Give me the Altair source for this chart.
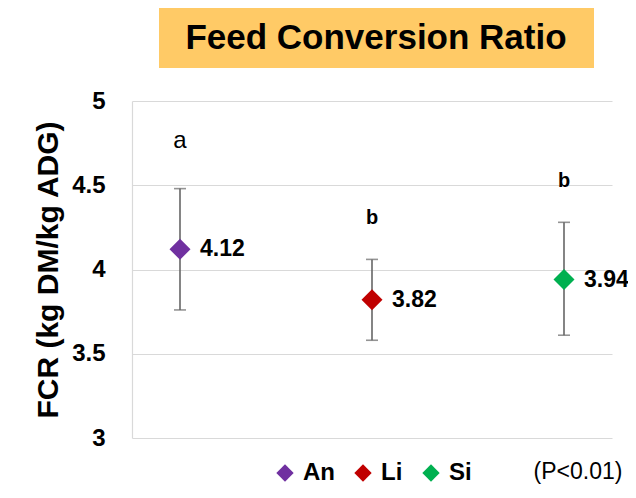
import altair as alt
import pandas as pd

cats = ["An", "Li", "Si"]
means = [4.12, 3.82, 3.94]
upper = [4.48, 4.06, 4.28]
lower = [3.76, 3.58, 3.61]
letters = ["a", "b", "b"]
colors = ["#7030A0", "#C00000", "#00B050"]
y_ticks = [3, 3.5, 4, 4.5, 5]

df = pd.DataFrame({"cat": cats, "mean": means, "hi": upper, "lo": lower, "letter": letters})

FONT = "Liberation Sans"
xenc = alt.X("cat:N", scale=alt.Scale(type="point", padding=0.25, domain=cats), axis=None)
yscale = alt.Scale(domain=[3, 5], nice=False, zero=False)
yaxis = alt.Axis(values=y_ticks, format=".1~f", grid=True, gridColor="#d9d9d9", gridWidth=1.2,
                 domainColor="#d9d9d9", domainWidth=1.2, ticks=False, tickSize=0, labelPadding=27,
                 labelFont=FONT, labelFontSize=24, labelFontWeight="bold", labelColor="black",
                 title="FCR (kg DM/kg ADG)", titleFont=FONT, titleFontSize=30, titleFontWeight="bold",
                 titleColor="black", titlePadding=8)

base = alt.Chart(df).encode(x=xenc)

rules = base.mark_rule(color="#666666", strokeWidth=1.6).encode(
    y=alt.Y("lo:Q", scale=yscale, axis=yaxis), y2="hi:Q")
cap_hi = base.mark_tick(color="#666666", size=12, thickness=1.6).encode(y=alt.Y("hi:Q"))
cap_lo = base.mark_tick(color="#666666", size=12, thickness=1.6).encode(y=alt.Y("lo:Q"))

points = base.mark_point(shape="diamond", filled=True, size=440, opacity=1).encode(
    y=alt.Y("mean:Q"),
    color=alt.Color("cat:N", scale=alt.Scale(domain=cats, range=colors),
                    legend=alt.Legend(orient="none", legendX=141, legendY=360, direction="horizontal",
                                      title=None, symbolType="diamond", symbolSize=300,
                                      symbolStrokeWidth=0, labelFont=FONT, labelFontSize=24,
                                      labelFontWeight="bold", labelColor="black", labelOffset=6,
                                      columnPadding=16)))

vals = base.mark_text(align="left", baseline="middle", dx=20, font=FONT, fontSize=23,
                      fontWeight="bold", color="black").encode(
    y=alt.Y("mean:Q"), text=alt.Text("mean:Q", format=".2f"))

let_a = base.transform_filter(alt.datum.letter == "a").mark_text(
    baseline="middle", dy=-48, font=FONT, fontSize=24, color="black").encode(
    y=alt.Y("hi:Q"), text="letter:N")
let_b = base.transform_filter(alt.datum.letter == "b").mark_text(
    baseline="middle", dy=-41, font=FONT, fontSize=20, fontWeight="bold", color="black").encode(
    y=alt.Y("hi:Q"), text="letter:N")

one = alt.Data(values=[{"k": 1}])
title_box = alt.Chart(one).mark_rect(color="#FFCA66").encode(
    x=alt.value(27), x2=alt.value(462), y=alt.value(-93), y2=alt.value(-33))
title_txt = alt.Chart(one).mark_text(font=FONT, fontSize=35, fontWeight="bold", color="black",
                                     baseline="middle", align="center").encode(
    x=alt.value(244), y=alt.value(-63), text=alt.value("Feed Conversion Ratio"))
ptxt = alt.Chart(one).mark_text(font=FONT, fontSize=23, color="black", baseline="middle",
                                align="center").encode(
    x=alt.value(446), y=alt.value(371), text=alt.value("(P<0.01)"))

chart = alt.layer(title_box, title_txt, rules, cap_hi, cap_lo, points, vals, let_a, let_b, ptxt).properties(
    width=480, height=337,
    autosize=alt.AutoSizeParams(type="none"),
    padding={"left": 124, "top": 93, "right": 16, "bottom": 52},
).configure_view(strokeWidth=0)

chart.save("out.html", embed_options={"renderer": "svg", "actions": False})
